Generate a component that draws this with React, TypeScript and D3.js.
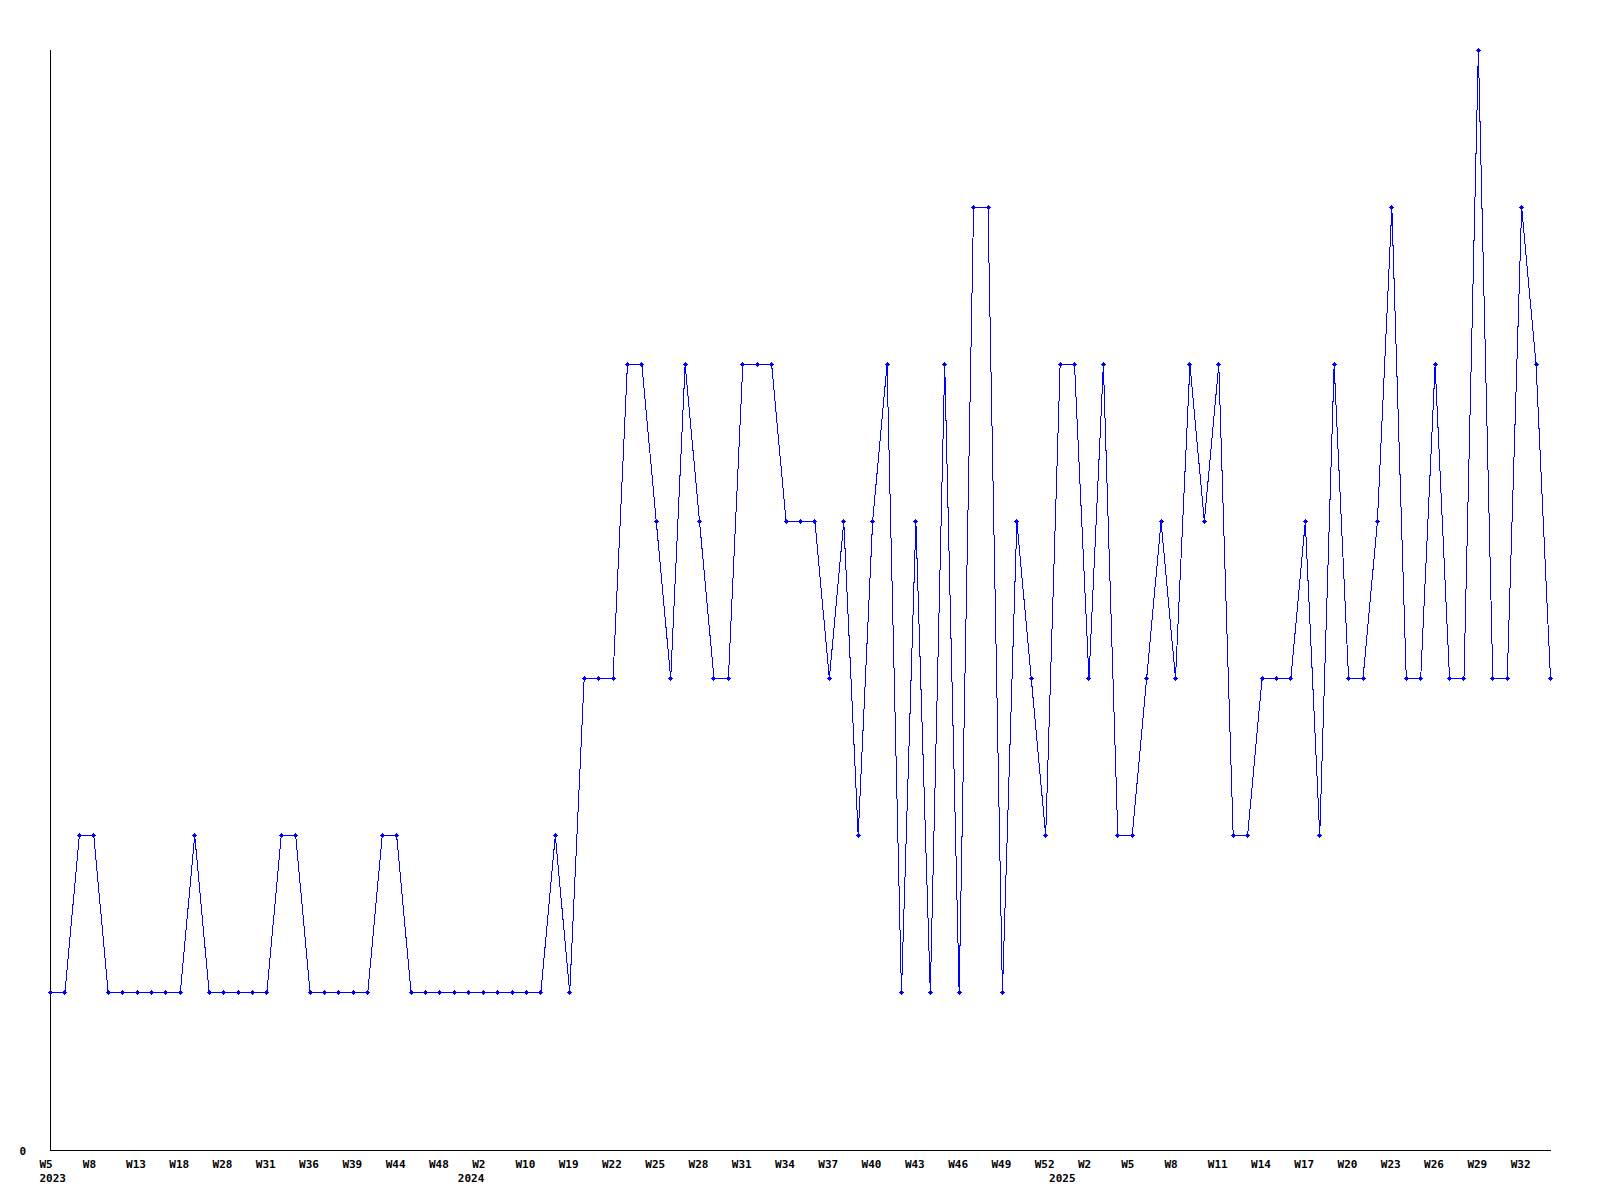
import React from "react";
import * as d3 from "d3";

// Weekly values, one per point (2023 W5 .. 2025 W33)
const values: number[] = [
  1, 1, 2, 2, 1, 1, 1, 1, 1, 1,
  2, 1, 1, 1, 1, 1, 2, 2, 1, 1,
  1, 1, 1, 2, 2, 1, 1, 1, 1, 1,
  1, 1, 1, 1, 1, 2, 1, 3, 3, 3,
  5, 5, 4, 3, 5, 4, 3, 3, 5, 5,
  5, 4, 4, 4, 3, 4, 2, 4, 5, 1,
  4, 1, 5, 1, 6, 6, 1, 4, 3, 2,
  5, 5, 3, 5, 2, 2, 3, 4, 3, 5,
  4, 5, 2, 2, 3, 3, 3, 4, 2, 5,
  3, 3, 4, 6, 3, 3, 5, 3, 3, 7,
  3, 3, 6, 5, 3,
];

// Week tick labels, one for every third point
const weekLabels: string[] = [
  "W5", "W8", "W13", "W18", "W28", "W31", "W36", "W39", "W44", "W48",
  "W2", "W10", "W19", "W22", "W25", "W28", "W31", "W34", "W37", "W40",
  "W43", "W46", "W49", "W52", "W2", "W5", "W8", "W11", "W14", "W17",
  "W20", "W23", "W26", "W29", "W32",
];
const weekLabelStep = 3;

// Year labels and the point index where each year starts
const yearLabels: string[] = ["2023", "2024", "2025"];
const yearStartIndex: number[] = [0, 29, 70];

const yTickLabels: string[] = ["0"];

export default function App() {
  const W = 1600;
  const H = 1200;
  const x = d3
    .scaleLinear()
    .domain([0, values.length - 1])
    .range([50.5, 1550.5]);
  const y = d3.scaleLinear().domain([0, 7]).range([1149.5, 50.5]);

  const line = d3
    .line<number>()
    .x((_, i) => x(i))
    .y((d) => y(d));

  const font = {
    fontFamily: "'DejaVu Sans Mono', monospace",
    fontWeight: "bold" as const,
    fontSize: 11,
  };
  const axisY = y(0) + 1;
  const r = 2.5;

  return (
    <svg
      width={W}
      height={H}
      style={{ position: "absolute", left: 0, top: 0, background: "#fff" }}
    >
      <rect x={0} y={0} width={W} height={H} fill="#fff" />
      {/* axes */}
      <line
        x1={50.5}
        y1={50}
        x2={50.5}
        y2={axisY}
        stroke="#000"
        strokeWidth={1}
        shapeRendering="crispEdges"
      />
      <line
        x1={50}
        y1={axisY}
        x2={1551}
        y2={axisY}
        stroke="#000"
        strokeWidth={1}
        shapeRendering="crispEdges"
      />
      {/* y tick label */}
      {yTickLabels.map((t, i) => (
        <text key={i} x={26} y={axisY + 4} textAnchor="end" {...font} fill="#000">
          {t}
        </text>
      ))}
      {/* week labels */}
      {weekLabels.map((t, k) => (
        <text
          key={"w" + k}
          x={x(k * weekLabelStep) - 11}
          y={1168}
          {...font}
          fill="#000"
        >
          {t}
        </text>
      ))}
      {/* year labels */}
      {yearLabels.map((t, k) => (
        <text
          key={"y" + k}
          x={x(yearStartIndex[k]) - 11}
          y={1182}
          {...font}
          fill="#000"
        >
          {t}
        </text>
      ))}
      {/* series */}
      <path
        d={line(values) || ""}
        fill="none"
        stroke="#0000ff"
        strokeWidth={1}
        shapeRendering="crispEdges"
      />
      {values.map((v, i) => {
        const cx = x(i);
        const cy = y(v);
        return (
          <polygon
            key={"m" + i}
            points={`${cx},${cy - r} ${cx + r},${cy} ${cx},${cy + r} ${cx - r},${cy}`}
            fill="#0000ff"
            shapeRendering="crispEdges"
          />
        );
      })}
    </svg>
  );
}
